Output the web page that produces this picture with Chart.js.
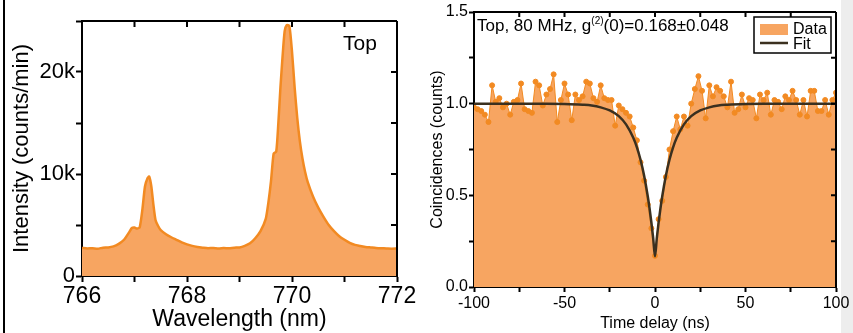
<!DOCTYPE html>
<html>
<head>
<meta charset="utf-8">
<script src="https://cdn.jsdelivr.net/npm/chart.js@4.4.1/dist/chart.umd.min.js"></script>
<style>
  body { margin: 0; background: #fff; }
  #wrap { position: relative; width: 853px; height: 333px; overflow: hidden; }
  #leftLine { position: absolute; left: 3px; top: 0; width: 2px; height: 333px; background: #000; }
  #strip { position: absolute; left: 841px; top: 0; width: 12px; height: 333px; background: #ededed; }
  #specChart { position: absolute; left: 0; top: 0; }
  #g2Chart { position: absolute; left: 420px; top: 0; }
</style>
</head>
<body>
<div id="wrap">
  <div id="strip"></div>
  <div id="leftLine"></div>
  <canvas id="specChart" width="420" height="333"></canvas>
  <canvas id="g2Chart" width="433" height="333"></canvas>
</div>
<script>
Chart.defaults.font.family = '"Liberation Sans", Arial, sans-serif';
Chart.defaults.color = '#000';

// spectrum (left panel)
const wavelength = [766.0, 766.1, 766.2, 766.3, 766.4, 766.5, 766.6, 766.7, 766.8, 766.9,
  766.95, 767.0, 767.05, 767.1, 767.15, 767.2, 767.25, 767.28, 767.32, 767.36,
  767.4, 767.45, 767.5, 767.6, 767.7, 767.8, 767.9, 768.0, 768.1, 768.2,
  768.3, 768.4, 768.5, 768.6, 768.7, 768.8, 768.9, 769.0, 769.1, 769.2,
  769.3, 769.4, 769.5, 769.55, 769.6, 769.65, 769.7, 769.74, 769.78, 769.82,
  769.86, 769.9, 769.95, 770.0, 770.05, 770.1, 770.15, 770.2, 770.25, 770.3,
  770.4, 770.5, 770.6, 770.7, 770.8, 770.9, 771.0, 771.1, 771.2, 771.3,
  771.4, 771.5, 771.6, 771.7, 771.8, 771.9, 772.0];
const intensity = [2750, 2700, 2720, 2680, 2780, 2800, 2900, 3150, 3550, 4300,
  4700, 4750, 4650, 4800, 6500, 8800, 9600, 9750, 8800, 7000,
  5500, 4900, 4500, 4100, 3800, 3550, 3300, 3100, 2950, 2850,
  2780, 2720, 2750, 2700, 2740, 2720, 2780, 2800, 2950, 3200,
  3700, 4400, 5600, 7200, 9300, 12000, 12200, 15000, 18500, 21500,
  24000, 24600, 24500, 22000, 18500, 15500, 13200, 11500, 10200, 9200,
  7800, 6700, 5800, 5000, 4400, 3900, 3550, 3250, 3050, 2950,
  2850, 2800, 2750, 2720, 2700, 2680, 2700];

// second-order correlation (right panel)
const delay = [-100, -98, -96, -94, -92, -90, -88, -86, -84, -82,
  -80, -78, -76, -74, -72, -70, -68, -66, -64, -62,
  -60, -58, -56, -54, -52, -50, -48, -46, -44, -42,
  -40, -38, -36, -34, -32, -30, -28, -26, -24, -22,
  -20, -18, -16, -14, -12, -10, -8, -6, -4, -2,
  0, 2, 4, 6, 8, 10, 12, 14, 16, 18,
  20, 22, 24, 26, 28, 30, 32, 34, 36, 38,
  40, 42, 44, 46, 48, 50, 52, 54, 56, 58,
  60, 62, 64, 66, 68, 70, 72, 74, 76, 78,
  80, 82, 84, 86, 88, 90, 92, 94, 96, 98, 100];
const coincidences = [0.98, 0.97, 0.96, 0.94, 0.90, 1.10, 1.01, 1.03, 0.98, 1.00,
  0.94, 1.01, 1.02, 1.11, 0.97, 0.96, 0.95, 1.12, 1.10, 0.99,
  1.05, 1.08, 1.16, 0.90, 1.02, 1.11, 1.05, 0.91, 1.05, 1.02,
  1.04, 1.12, 1.11, 1.03, 1.01, 1.10, 1.03, 1.02, 1.02, 0.88,
  0.99, 0.97, 0.95, 0.93, 0.87, 0.80, 0.68, 0.58, 0.45, 0.32,
  0.17, 0.37, 0.47, 0.60, 0.75, 0.85, 0.93, 0.86, 0.93, 0.88,
  1.00, 1.08, 1.15, 1.07, 0.92, 1.10, 1.04, 1.09, 1.07, 1.04,
  0.98, 1.12, 0.95, 0.97, 1.05, 0.98, 1.03, 1.02, 0.92, 1.05,
  1.02, 1.06, 0.94, 1.02, 1.01, 0.97, 1.04, 1.02, 1.07, 1.02,
  0.94, 1.02, 0.93, 1.07, 1.07, 0.96, 0.96, 1.02, 0.94, 1.02, 1.06];
const fitDelay = [-100, -60, -50, -40, -35, -30, -25, -20, -16, -12, -10, -8, -6, -4, -3, -2, -1, 0,
  1, 2, 3, 4, 6, 8, 10, 12, 16, 20, 25, 30, 35, 40, 50, 60, 100];
const fitValue = [1.0, 0.9995, 0.998, 0.994, 0.990, 0.980, 0.963, 0.932, 0.887, 0.814, 0.762, 0.694, 0.607, 0.495, 0.428, 0.352, 0.266, 0.168,
  0.266, 0.352, 0.428, 0.495, 0.607, 0.694, 0.762, 0.814, 0.887, 0.932, 0.963, 0.980, 0.990, 0.994, 0.998, 0.9995, 1.0];

const lineOrange = '#f28a22';
const fillOrange = '#f7a561';
const fitBrown = '#3b301f';

function toXY(xs, ys) {
  return xs.map((x, i) => ({ x: x, y: ys[i] }));
}

// frame: top and right axis lines with inward ticks, plus extra drawing
function framePlugin(topTicks, rightTicks, tickLen, extra) {
  return {
    id: 'frame',
    afterDraw(chart) {
      const ctx = chart.ctx;
      const a = chart.chartArea;
      const xs = chart.scales.x, ys = chart.scales.y;
      ctx.save();
      ctx.strokeStyle = '#000';
      ctx.lineWidth = 2;
      ctx.beginPath();
      ctx.moveTo(a.left, a.top); ctx.lineTo(a.right, a.top);
      ctx.moveTo(a.right, a.top); ctx.lineTo(a.right, a.bottom);
      topTicks.forEach(v => {
        const px = xs.getPixelForValue(v);
        ctx.moveTo(px, a.top); ctx.lineTo(px, a.top + tickLen);
      });
      rightTicks.forEach(v => {
        const py = ys.getPixelForValue(v);
        ctx.moveTo(a.right, py); ctx.lineTo(a.right - tickLen, py);
      });
      ctx.stroke();
      ctx.restore();
      if (extra) extra(chart);
    }
  };
}

const specCtx = document.getElementById('specChart').getContext('2d');
new Chart(specCtx, {
  type: 'line',
  data: {
    datasets: [{
      data: toXY(wavelength, intensity),
      borderColor: lineOrange,
      backgroundColor: fillOrange,
      borderWidth: 2.5,
      fill: 'origin',
      pointRadius: 0,
      tension: 0.2
    }]
  },
  options: {
    responsive: false,
    animation: false,
    devicePixelRatio: 1,
    layout: { padding: { left: 0, right: 23, top: 21, bottom: 0 } },
    plugins: { legend: { display: false }, tooltip: { enabled: false } },
    scales: {
      x: {
        type: 'linear', min: 766, max: 772,
        afterFit(s) { s.height = 57; },
        grid: { drawOnChartArea: false, tickLength: 6, tickWidth: 2, tickColor: '#000' },
        border: { color: '#000', width: 2 },
        ticks: {
          stepSize: 1, padding: 1, maxRotation: 0,
          font: { size: 23 },
          callback: v => (v % 2 === 0 ? String(v) : '')
        },
        title: { display: true, text: 'Wavelength (nm)', font: { size: 23 }, padding: { top: -7, bottom: 0 } }
      },
      y: {
        min: 0, max: 25000,
        afterFit(s) { s.width = 82; },
        grid: { drawOnChartArea: false, tickLength: 6, tickWidth: 2, tickColor: '#000' },
        border: { color: '#000', width: 2 },
        ticks: {
          stepSize: 5000, padding: 1,
          font: { size: 22 },
          callback: v => (v === 0 ? '0' : (v % 10000 === 0 ? (v / 1000) + 'k' : ''))
        },
        title: { display: true, text: 'Intensity (counts/min)', font: { size: 22 }, padding: { top: 9, bottom: -8 } }
      }
    }
  },
  plugins: [framePlugin([766, 767, 768, 769, 770, 771, 772], [5000, 10000, 15000, 20000], 6, chart => {
    const ctx = chart.ctx;
    ctx.save();
    ctx.fillStyle = '#000';
    ctx.font = '21px "Liberation Sans", Arial, sans-serif';
    ctx.textBaseline = 'middle';
    ctx.textAlign = 'left';
    ctx.fillText('Top', 343, 44);
    ctx.restore();
  })]
});

const g2Ctx = document.getElementById('g2Chart').getContext('2d');
new Chart(g2Ctx, {
  type: 'line',
  data: {
    datasets: [{
      label: 'Fit',
      data: toXY(fitDelay, fitValue),
      borderColor: fitBrown,
      borderWidth: 2.5,
      fill: false,
      pointRadius: 0,
      cubicInterpolationMode: 'monotone'
    }, {
      label: 'Data',
      data: toXY(delay, coincidences),
      borderColor: lineOrange,
      backgroundColor: fillOrange,
      pointBackgroundColor: lineOrange,
      pointBorderColor: lineOrange,
      borderWidth: 1,
      fill: 'origin',
      pointRadius: 2.5,
      tension: 0
    }]
  },
  options: {
    responsive: false,
    animation: false,
    devicePixelRatio: 1,
    layout: { padding: { left: 0, right: 17, top: 12, bottom: 0 } },
    plugins: { legend: { display: false }, tooltip: { enabled: false } },
    scales: {
      x: {
        type: 'linear', min: -100, max: 100,
        afterFit(s) { s.height = 46; },
        grid: { drawOnChartArea: false, tickLength: 5, tickWidth: 2, tickColor: '#000' },
        border: { color: '#000', width: 2 },
        ticks: {
          stepSize: 25, padding: 2, maxRotation: 0,
          font: { size: 16 },
          callback: v => (v % 50 === 0 ? String(v) : '')
        },
        title: { display: true, text: 'Time delay (ns)', font: { size: 16 }, padding: { top: -4, bottom: 0 } }
      },
      y: {
        min: 0, max: 1.5,
        afterFit(s) { s.width = 54; },
        grid: { drawOnChartArea: false, tickLength: 5, tickWidth: 2, tickColor: '#000' },
        border: { color: '#000', width: 2 },
        ticks: {
          stepSize: 0.25, padding: 1,
          font: { size: 16 },
          callback: v => (Math.abs(v * 2 - Math.round(v * 2)) < 1e-6 ? v.toFixed(1) : '')
        },
        title: { display: true, text: 'Coincidences (counts)', font: { size: 16 }, padding: { top: 8, bottom: -4 } }
      }
    }
  },
  plugins: [framePlugin([-75, -50, -25, 0, 25, 50, 75], [0.25, 0.5, 0.75, 1.0, 1.25], 5, chart => {
    const ctx = chart.ctx;
    ctx.save();
    ctx.fillStyle = '#000';
    ctx.textBaseline = 'alphabetic';
    ctx.textAlign = 'left';
    // annotation with superscript
    let x = 57, y = 31;
    ctx.font = '17px "Liberation Sans", Arial, sans-serif';
    const p1 = 'Top, 80 MHz, g';
    ctx.fillText(p1, x, y); x += ctx.measureText(p1).width;
    ctx.font = '10px "Liberation Sans", Arial, sans-serif';
    ctx.fillText('(2)', x, y - 7); x += ctx.measureText('(2)').width;
    ctx.font = '17px "Liberation Sans", Arial, sans-serif';
    ctx.fillText('(0)=0.168\u00b10.048', x, y);
    // legend box
    ctx.strokeStyle = '#000';
    ctx.lineWidth = 1.5;
    ctx.fillStyle = '#fff';
    ctx.fillRect(334, 17, 77, 36);
    ctx.strokeRect(334, 17, 77, 36);
    ctx.fillStyle = fillOrange;
    ctx.fillRect(340, 24, 28, 11);
    ctx.strokeStyle = fitBrown;
    ctx.lineWidth = 2.5;
    ctx.beginPath(); ctx.moveTo(340, 43); ctx.lineTo(368, 43); ctx.stroke();
    ctx.fillStyle = '#000';
    ctx.font = '16px "Liberation Sans", Arial, sans-serif';
    ctx.textBaseline = 'middle';
    ctx.fillText('Data', 373, 30);
    ctx.fillText('Fit', 373, 45);
    ctx.restore();
  })]
});
</script>
</body>
</html>
